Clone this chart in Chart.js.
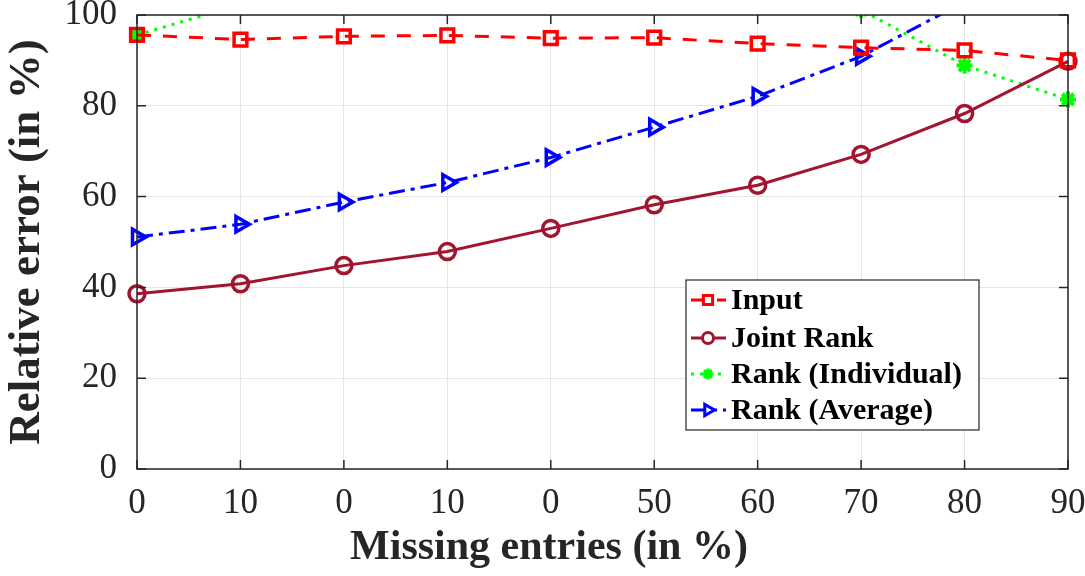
<!DOCTYPE html>
<html>
<head>
<meta charset="utf-8">
<script src="https://cdn.jsdelivr.net/npm/chart.js@4"></script>
<style>
  html, body { margin: 0; padding: 0; background: #fff; }
  #wrap { width: 1085px; height: 576px; }
</style>
</head>
<body>
<div id="wrap"><canvas id="chart1" width="1085" height="576"></canvas></div>
<script>
// data
const categories = ['0', '10', '0', '10', '0', '50', '60', '70', '80', '90'];
const inputErr = [95.6, 94.6, 95.3, 95.5, 94.9, 95.0, 93.7, 92.8, 92.2, 90.0];
const jointRank = [38.6, 40.8, 44.8, 47.9, 53.0, 58.2, 62.5, 69.3, 78.3, 89.8];
const rankIndividual = [95.6, 102.3, 106, 108, 110, 110, 106, 101.1, 88.9, 81.4];
const rankAverage = [51.1, 53.9, 58.8, 63.1, 68.6, 75.3, 82.1, 90.9, 102.9, 112];
const yTicks = [0, 20, 40, 60, 80, 100];
const xTitle = 'Missing entries (in %)';

const serif = '"Liberation Serif", "Times New Roman", serif';
const axisColor = '#262626';

// box, inner ticks, x title and legend drawn in MATLAB style
const matlabBox = {
    id: 'matlabBox',
    afterDatasetsDraw(chart) {
        const { ctx, chartArea: a, scales } = chart;
        ctx.save();
        ctx.strokeStyle = axisColor;
        ctx.lineWidth = 1.5;
        ctx.strokeRect(a.left, a.top, a.right - a.left, a.bottom - a.top);
        ctx.beginPath();
        yTicks.forEach(v => {
            const y = scales.y.getPixelForValue(v);
            ctx.moveTo(a.left, y); ctx.lineTo(a.left + 9, y);
            ctx.moveTo(a.right, y); ctx.lineTo(a.right - 9, y);
        });
        categories.forEach((c, i) => {
            const x = scales.x.getPixelForValue(i);
            ctx.moveTo(x, a.bottom); ctx.lineTo(x, a.bottom - 9);
            ctx.moveTo(x, a.top); ctx.lineTo(x, a.top + 9);
        });
        ctx.stroke();
        ctx.restore();
    },
    afterDraw(chart) {
        const { ctx } = chart;
        ctx.save();
        ctx.fillStyle = axisColor;
        ctx.font = 'bold 42px ' + serif;
        ctx.textAlign = 'center';
        ctx.textBaseline = 'middle';
        ctx.fillText(xTitle, 549, 548);
        ctx.textAlign = 'left';

        const bx = 686, by = 280, bw = 293, bh = 150;
        ctx.fillStyle = '#fff';
        ctx.fillRect(bx, by, bw, bh);
        ctx.strokeStyle = axisColor;
        ctx.lineWidth = 1.2;
        ctx.strokeRect(bx, by, bw, bh);
        const rows = [300, 338, 374, 410];
        chart.data.datasets.forEach((ds, i) => {
            const y = rows[i];
            ctx.strokeStyle = ds.borderColor;
            ctx.lineWidth = 3;
            ctx.setLineDash(ds.borderDash || []);
            ctx.beginPath();
            ctx.moveTo(691, y); ctx.lineTo(726, y);
            ctx.stroke();
            ctx.setLineDash([]);
            ctx.fillStyle = '#fff';
            Chart.helpers.drawPoint(ctx, {
                pointStyle: ds.pointStyle,
                rotation: ds.pointRotation || 0,
                radius: ds.pointRadius - 2.5,
                borderWidth: ds.pointBorderWidth
            }, 708, y);
            ctx.fillStyle = '#000';
            ctx.font = 'bold 30px ' + serif;
            ctx.textBaseline = 'middle';
            ctx.fillText(ds.label, 731, y + 1);
        });
        ctx.restore();
    }
};

function series(label, data, color, dash, style, radius, extra) {
    return Object.assign({
        label: label,
        data: data,
        borderColor: color,
        backgroundColor: color,
        borderWidth: 3,
        borderDash: dash,
        pointStyle: style,
        pointRadius: radius,
        pointHoverRadius: radius,
        pointBorderColor: color,
        pointBackgroundColor: 'rgba(0,0,0,0)',
        pointBorderWidth: 3.5,
        tension: 0,
        clip: { left: 12, right: 14, top: 0, bottom: 0 }
    }, extra || {});
}

const ctx = document.getElementById('chart1').getContext('2d');
const chart = new Chart(ctx, {
    type: 'line',
    data: {
        labels: categories,
        datasets: [
            series('Input', inputErr, '#ff0000', [14, 12], 'rect', 9),
            series('Joint Rank', jointRank, '#a2142f', [], 'circle', 8),
            series('Rank (Individual)', rankIndividual, '#00ff00', [3, 6], 'star', 8,
                { pointBorderWidth: 4 }),
            series('Rank (Average)', rankAverage, '#0000ff', [16, 6, 4, 6], 'triangle', 9,
                { pointRotation: 90 })
        ]
    },
    options: {
        responsive: false,
        animation: false,
        layout: { padding: { top: 0, right: 0, left: 0, bottom: 0 } },
        plugins: {
            legend: { display: false },
            tooltip: { enabled: false }
        },
        scales: {
            x: {
                offset: false,
                grid: { color: '#e6e6e6', lineWidth: 1, drawTicks: false },
                border: { display: false },
                ticks: {
                    color: axisColor,
                    font: { family: serif, size: 35 },
                    padding: 14,
                    maxRotation: 0,
                    autoSkip: false
                },
                title: { display: false },
                afterFit(scale) {
                    scale.height = 107;
                    scale.paddingLeft = 0;
                    scale.paddingRight = 17;
                }
            },
            y: {
                min: 0,
                max: 100,
                grid: { color: '#e6e6e6', lineWidth: 1, drawTicks: false },
                border: { display: false },
                afterBuildTicks(scale) { scale.ticks = yTicks.map(v => ({ value: v })); },
                ticks: {
                    color: axisColor,
                    font: { family: serif, size: 35 },
                    padding: 20
                },
                title: {
                    display: true,
                    text: 'Relative error (in %)',
                    color: axisColor,
                    font: { family: serif, size: 45, weight: 'bold' },
                    padding: { top: 0, bottom: 0 }
                },
                afterFit(scale) {
                    scale.width = 137;
                    scale.paddingTop = 15;
                    scale.paddingBottom = 0;
                }
            }
        }
    },
    plugins: [matlabBox]
});
</script>
</body>
</html>
